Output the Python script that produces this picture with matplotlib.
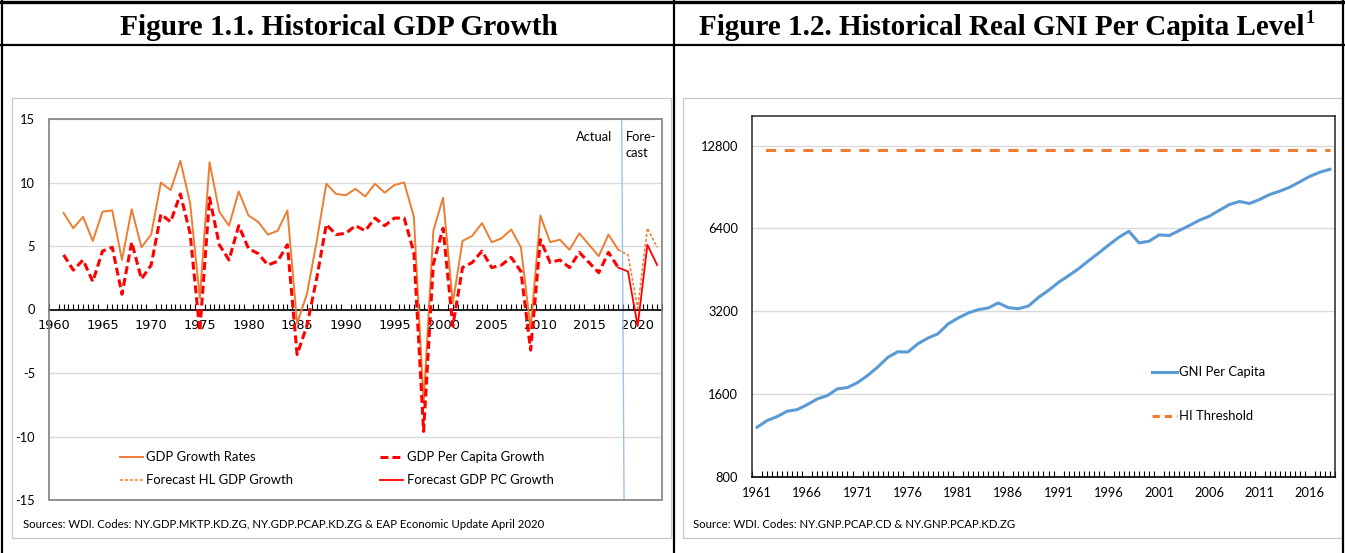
import numpy as np
import matplotlib
matplotlib.use("Agg")
import matplotlib.pyplot as plt
from matplotlib.lines import Line2D
from matplotlib.patches import Rectangle

# ------------------------------------------------------------------ data
years_hist = list(range(1961, 2019))
gdp_growth = [7.6, 6.4, 7.3, 5.4, 7.7, 7.8, 3.9, 7.9, 4.9, 5.9,
              10.0, 9.4, 11.7, 8.4, 0.9, 11.6, 7.7, 6.6, 9.3, 7.4,
              6.9, 5.9, 6.2, 7.8, -1.1, 1.2, 5.3, 9.9, 9.1, 9.0,
              9.5, 8.9, 9.9, 9.2, 9.8, 10.0, 7.3, -7.4, 6.2, 8.8,
              0.5, 5.4, 5.8, 6.8, 5.3, 5.6, 6.3, 4.9, -1.5, 7.4,
              5.3, 5.5, 4.7, 6.0, 5.1, 4.2, 5.9, 4.7]
gdp_pc_growth = [4.3, 3.1, 3.9, 2.2, 4.6, 4.9, 1.2, 5.3, 2.4, 3.5,
                 7.5, 6.9, 9.1, 6.0, -1.7, 8.8, 5.1, 3.9, 6.6, 4.8,
                 4.4, 3.5, 3.8, 5.1, -3.55, -1.3, 2.4, 6.7, 5.9, 6.0,
                 6.6, 6.2, 7.2, 6.6, 7.2, 7.2, 4.5, -9.6, 3.6, 6.4,
                 -1.3, 3.3, 3.7, 4.6, 3.3, 3.5, 4.1, 3.0, -3.2, 5.5,
                 3.7, 3.9, 3.3, 4.5, 3.7, 2.9, 4.5, 3.3]
years_fc = [2018, 2019, 2020, 2021, 2022]
fc_gdp_growth = [4.7, 4.3, 0.1, 6.4, 4.9]
fc_gdp_pc_growth = [3.3, 3.0, -1.3, 5.1, 3.5]
left_xticks = list(range(1960, 2021, 5))
left_yticks = [-15, -10, -5, 0, 5, 10, 15]
forecast_split = 2018.5

years_gni = list(range(1961, 2019))
gni_pc = [1213, 1283, 1326, 1387, 1406, 1466, 1538, 1581, 1673, 1691,
          1763, 1870, 2006, 2175, 2281, 2275, 2439, 2558, 2652, 2877,
          3025, 3154, 3243, 3290, 3431, 3300, 3270, 3345, 3595, 3813,
          4077, 4312, 4573, 4890, 5216, 5578, 5946, 6252, 5672, 5749,
          6066, 6030, 6288, 6557, 6856, 7090, 7456, 7818, 8018, 7888,
          8153, 8502, 8743, 9040, 9455, 9900, 10250, 10500]
hi_threshold = 12375
right_xticks = list(range(1961, 2017, 5))
right_yticks = [800, 1600, 3200, 6400, 12800]

title_left = "Figure 1.1. Historical GDP Growth"
title_right = "Figure 1.2. Historical Real GNI Per Capita Level"
title_right_sup = "1"
source_left = ("Sources: WDI. Codes: NY.GDP.MKTP.KD.ZG, NY.GDP.PCAP.KD.ZG "
               "& EAP Economic Update April 2020")
source_right = "Source: WDI. Codes: NY.GNP.PCAP.CD & NY.GNP.PCAP.KD.ZG"

# ------------------------------------------------------------------ style
W, H, DPI = 1345, 553, 100
ORANGE = "#ED7D31"
RED = "#FF0000"
BLUE = "#5B9BD5"
GRID = "#D9D9D9"
SANS = ["Lato", "DejaVu Sans"]
SERIF = ["Liberation Serif", "DejaVu Serif"]

fig = plt.figure(figsize=(W / DPI, H / DPI), dpi=DPI)
R = fig.canvas.get_renderer()


def fx(px):
    return px / W


def fy(py):
    return 1 - py / H


def size_for(s, target_px, family, weight="normal", base=10.0):
    t = fig.text(0, 0, s, fontsize=base, family=family, weight=weight)
    w = t.get_window_extent(renderer=R).width
    t.remove()
    return base * target_px / w


def fline(x0, x1, y0, y1, **kw):
    fig.add_artist(Line2D([fx(x0), fx(x1)], [fy(y0), fy(y1)],
                          transform=fig.transFigure, **kw))


tick_fs = size_for("1960", 30, SANS)
leg_fs = size_for("Forecast HL GDP Growth", 147, SANS)
src_fs = size_for(source_left, 522, SANS)

# ------------------------------------------------------------------ table frame
fline(0, W, 2, 2, color="black", lw=2.4)
fline(0, W, 45, 45, color="black", lw=1.6)
fline(2, 2, 0, H, color="black", lw=1.6)
fline(673.5, 673.5, 0, H, color="black", lw=1.6)
fline(1343, 1343, 0, H, color="black", lw=1.6)

# chart frames (light grey)
for (x0, x1) in [(12, 671), (683, 1342)]:
    fig.add_artist(Rectangle((fx(x0), fy(538)), fx(x1) - fx(x0), fy(98) - fy(538),
                             transform=fig.transFigure, fill=False,
                             edgecolor="#C8C8C8", lw=0.9))

# titles
ts = size_for(title_left, 437, SERIF, "bold")
fig.text(fx(338.5), fy(35), title_left, ha="center", va="baseline",
         fontsize=ts, family=SERIF, weight="bold")
ts2 = size_for(title_right, 608, SERIF, "bold")
t_r = fig.text(fx(699), fy(35), title_right, ha="left", va="baseline",
               fontsize=ts2, family=SERIF, weight="bold")
bb = t_r.get_window_extent(renderer=R)
fig.text((bb.x1 + 1) / W, fy(23), title_right_sup, ha="left", va="baseline",
         fontsize=ts2 * 0.62, family=SERIF, weight="bold")

# ------------------------------------------------------------------ left chart
ax1 = fig.add_axes([fx(49), fy(500), (662 - 49) / W, (500 - 119) / H])
ax1.plot(years_hist, gdp_growth, color=ORANGE, lw=1.4, zorder=3)
ax1.plot(years_hist, gdp_pc_growth, color=RED, lw=2.2,
         linestyle=(0, (2.6, 1.3)), zorder=4)
ax1.plot(years_fc, fc_gdp_growth, color=ORANGE, lw=1.1,
         linestyle=(0, (2.0, 1.2)), zorder=3)
ax1.plot(years_fc, fc_gdp_pc_growth, color=RED, lw=1.3, zorder=4)
ax1.plot([forecast_split - 0.14, forecast_split + 0.1], [15, -15],
         color="#9DC3E6", lw=1.0, zorder=2)

ax1.set_xlim(1959.5, 2022.5)
ax1.set_ylim(-15, 15)
ax1.set_yticks(left_yticks)
ax1.set_yticklabels([str(v) for v in left_yticks])
ax1.set_xticks(left_xticks)
ax1.set_xticklabels([str(v) for v in left_xticks])
ax1.set_xticks(np.arange(1959.5, 2022.6, 0.5), minor=True)
ax1.tick_params(axis="y", length=0, pad=10, labelsize=tick_fs, labelcolor="black")
ax1.tick_params(axis="x", which="major", length=0, pad=7, labelsize=tick_fs,
                labelcolor="black")
ax1.tick_params(axis="x", which="minor", length=4, width=0.8, direction="in",
                color="black")
for lab in ax1.get_xticklabels() + ax1.get_yticklabels():
    lab.set_family(SANS)
ax1.grid(axis="y", color=GRID, lw=1.0, zorder=0)
ax1.set_axisbelow(True)
for s in ["top", "right", "left"]:
    ax1.spines[s].set_visible(False)
ax1.spines["bottom"].set_position(("data", 0))
ax1.spines["bottom"].set_color("black")
ax1.spines["bottom"].set_linewidth(1.2)
ax1.spines["bottom"].set_zorder(2.5)
ax1.add_patch(Rectangle((0, 0), 1, 1, transform=ax1.transAxes, fill=False,
                        edgecolor="#7F7F7F", lw=1.2, clip_on=False, zorder=5))

ax1.text(2017.35, 13.6, "Actual", ha="right", va="center", fontsize=tick_fs,
         family=SANS, color="black")
ax1.text(2018.75, 13.6, "Fore-", ha="left", va="center", fontsize=tick_fs,
         family=SANS, color="black")
ax1.text(2018.75, 12.3, "cast", ha="left", va="center", fontsize=tick_fs,
         family=SANS, color="black")

# left legend (manual, two columns)
leg_items = [
    (120, 143, 146, 457, dict(color=ORANGE, lw=1.4), "GDP Growth Rates"),
    (120, 143, 146, 480, dict(color=ORANGE, lw=1.1, linestyle=(0, (2.0, 1.2))),
     "Forecast HL GDP Growth"),
    (380, 403, 407, 457, dict(color=RED, lw=2.2, linestyle=(0, (2.6, 1.3))),
     "GDP Per Capita Growth"),
    (380, 403, 407, 480, dict(color=RED, lw=1.3), "Forecast GDP PC Growth"),
]
for x0, x1, xt, yy, kw, lab in leg_items:
    fline(x0, x1, yy, yy, **kw)
    fig.text(fx(xt), fy(yy), lab, ha="left", va="center", fontsize=leg_fs,
             family=SANS, color="black")

fig.text(fx(23), fy(525), source_left, ha="left", va="center", fontsize=src_fs,
         family=SANS, color="black")

# ------------------------------------------------------------------ right chart
ax2 = fig.add_axes([fx(752), fy(477), (1335 - 752) / W, (477 - 116) / H])
ax2.plot(years_gni, gni_pc, color=BLUE, lw=2.2, zorder=3,
         solid_joinstyle="round")
ax2.plot(years_gni, [hi_threshold] * len(years_gni), color=ORANGE, lw=2.2,
         linestyle=(3.3, (3.3, 2.8)), zorder=3)
ax2.set_yscale("log", base=2)
ax2.set_ylim(800, 16400)
ax2.set_xlim(1960.5, 2018.5)
ax2.set_yticks(right_yticks)
ax2.set_yticklabels([str(v) for v in right_yticks])
ax2.yaxis.set_minor_locator(matplotlib.ticker.NullLocator())
ax2.set_xticks(right_xticks)
ax2.set_xticklabels([str(v) for v in right_xticks])
ax2.set_xticks(np.arange(1960.5, 2018.6, 0.5), minor=True)
ax2.tick_params(axis="y", length=0, pad=10, labelsize=tick_fs, labelcolor="black")
ax2.tick_params(axis="x", which="major", length=0, pad=7, labelsize=tick_fs,
                labelcolor="black")
ax2.tick_params(axis="x", which="minor", length=4, width=0.8, direction="in",
                color="black")
for lab in ax2.get_xticklabels() + ax2.get_yticklabels():
    lab.set_family(SANS)
ax2.grid(axis="y", which="major", color=GRID, lw=1.0, zorder=0)
ax2.set_axisbelow(True)
for s in ["top", "right", "left"]:
    ax2.spines[s].set_color("#262626")
    ax2.spines[s].set_linewidth(1.1)
ax2.spines["bottom"].set_color("black")
ax2.spines["bottom"].set_linewidth(1.2)

r_items = [
    (1152, 1177, 1179, 372, dict(color=BLUE, lw=2.2), "GNI Per Capita"),
    (1152, 1177, 1179, 416, dict(color=ORANGE, lw=2.2, linestyle=(0, (2.4, 1.6))),
     "HI Threshold"),
]
for x0, x1, xt, yy, kw, lab in r_items:
    fline(x0, x1, yy, yy, **kw)
    fig.text(fx(xt), fy(yy), lab, ha="left", va="center", fontsize=leg_fs,
             family=SANS, color="black")

fig.text(fx(693), fy(524), source_right, ha="left", va="center", fontsize=src_fs,
         family=SANS, color="black")

fig.savefig("out.png", dpi=DPI)
